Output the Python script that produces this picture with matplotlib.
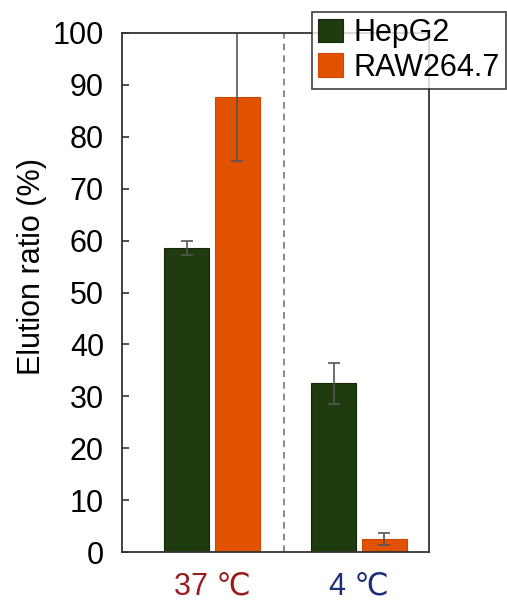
import numpy as np
import matplotlib
matplotlib.use("Agg")
import matplotlib.pyplot as plt

plt.rcParams['font.family'] = ['Liberation Sans', 'DejaVu Sans']

groups = ["37 \u2103", "4 \u2103"]
group_colors = ["#9b1b1b", "#1c2e78"]
hepg2 = [58.6, 32.5]
hepg2_err = [1.3, 3.9]
raw = [87.7, 2.5]
raw_err = [12.4, 1.1]

fig = plt.figure(figsize=(5.07, 6.02), dpi=100)
ax = fig.add_axes([122/507, 1-552/602, (429-122)/507, (552-33)/602])

x = np.arange(len(groups))
w = 0.31
off = 0.173
ax.bar(x - off, hepg2, w, color="#1f3b10", edgecolor="#142808", linewidth=0.8, label="HepG2")
ax.bar(x + off, raw, w, color="#e05200", edgecolor="#d04800", linewidth=0.8, label="RAW264.7")
ax.errorbar(x - off, hepg2, yerr=hepg2_err, fmt="none", ecolor="#555555", elinewidth=1.2, capsize=4, capthick=1.2)
ax.errorbar(x + off, raw, yerr=raw_err, fmt="none", ecolor="#555555", elinewidth=1.2, capsize=4, capthick=1.2)
ax.axvline(0.49, color="#777777", linestyle=(0, (4, 3)), linewidth=1.2)

ax.set_xlim(-0.612, 1.476)
ax.set_ylim(0, 100)
ax.set_yticks(range(0, 101, 10))
ax.tick_params(axis="y", labelsize=22, direction="in", length=5, width=1.2, color="#333333", pad=13)
ax.set_xticks(x)
ax.set_xticklabels(groups, fontsize=22)
for t, c in zip(ax.get_xticklabels(), group_colors):
    t.set_color(c)
ax.tick_params(axis="x", length=0, pad=14)
ax.set_ylabel("Elution ratio (%)", fontsize=22)
ax.yaxis.set_label_coords(-0.244, 0.551)
for s in ax.spines.values():
    s.set_color("#333333")
    s.set_linewidth(1.3)

leg = fig.legend(loc="upper left", bbox_to_anchor=(312/507, 1-12/602), fontsize=22,
                 frameon=True, fancybox=False, edgecolor="#222222", handlelength=0.8,
                 handleheight=0.8, handletextpad=0.35, borderpad=0.2, labelspacing=0.15,
                 borderaxespad=0)
leg.get_frame().set_linewidth(1.3)

fig.savefig("out.png", dpi=100)
